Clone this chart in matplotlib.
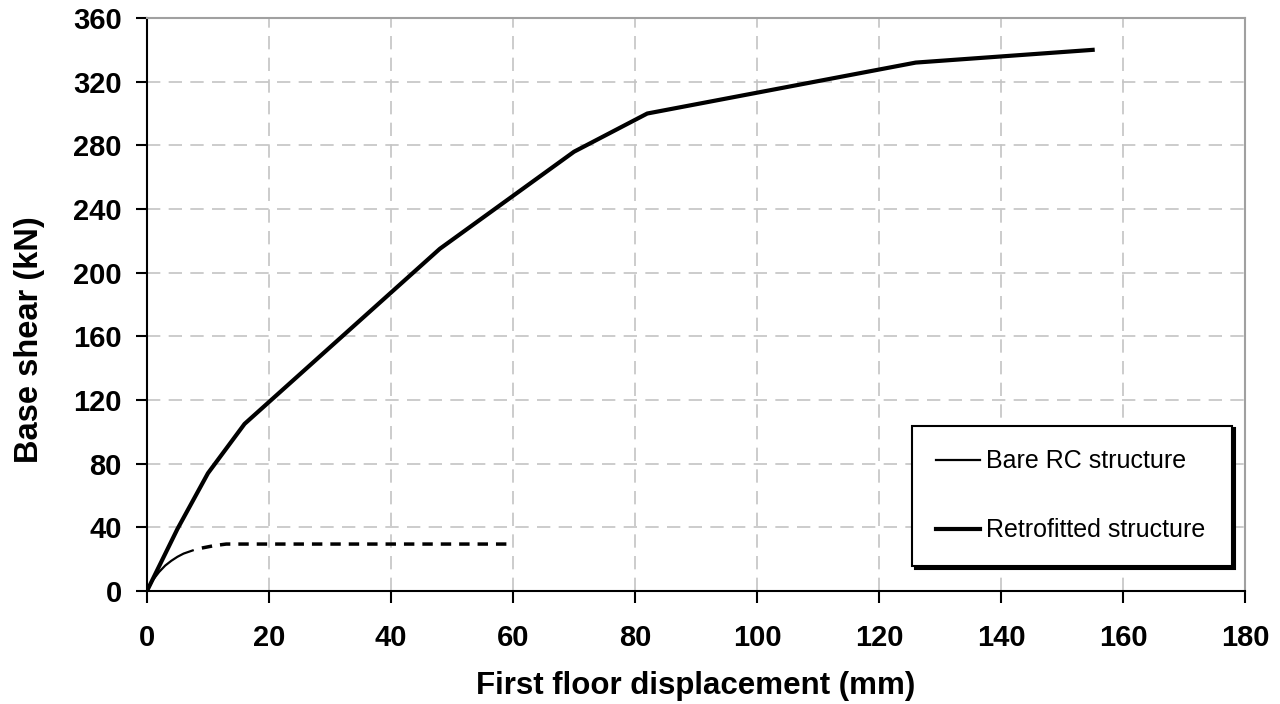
import matplotlib
matplotlib.use("Agg")
import matplotlib.pyplot as plt

plt.rcParams['font.family'] = ['Liberation Sans', 'DejaVu Sans']

retro_x = [0, 5, 10, 16, 48, 70, 82, 126, 155]
retro_y = [0, 39, 74, 105, 215, 276, 300, 332, 340]

bare_solid_x = [0, 1, 2, 3, 4, 5, 6, 7.5]
bare_solid_y = [0, 7, 12, 16, 19, 21.5, 23.5, 25.5]
bare_dash_x = [9, 11, 13, 20, 40, 59]
bare_dash_y = [27, 28.5, 29.5, 29.5, 29.5, 29.5]

xticks = list(range(0, 181, 20))
yticks = list(range(0, 361, 40))

fig = plt.figure(figsize=(12.8, 7.04), dpi=100)
ax = fig.add_axes([0.1148, 0.1605, 0.858, 0.8139])

ax.plot(bare_solid_x, bare_solid_y, color='black', lw=1.6, label='Bare RC structure')
ax.plot(bare_dash_x, bare_dash_y, color='black', lw=2.5, linestyle=(0, (3, 2.3)))
ax.plot(retro_x, retro_y, color='black', lw=3.0, label='Retrofitted structure')

ax.set_xlim(0, 180)
ax.set_ylim(0, 360)
ax.set_xticks(xticks)
ax.set_yticks(yticks)
ax.grid(True, color='#c4c4c4', linestyle=(0, (8, 5)), lw=1.2)
ax.set_axisbelow(True)

for s in ['top', 'right']:
    ax.spines[s].set_color('#a0a0a0')
    ax.spines[s].set_linewidth(1.5)
for s in ['left', 'bottom']:
    ax.spines[s].set_color('black')
    ax.spines[s].set_linewidth(1.5)

ax.tick_params(axis='y', direction='out', length=8, width=1.5, labelsize=21, pad=10)
ax.tick_params(axis='x', direction='out', length=8.5, width=1.5, labelsize=21, pad=15)
for lab in ax.get_xticklabels() + ax.get_yticklabels():
    lab.set_fontweight('bold')

ax.set_xlabel('First floor displacement (mm)', fontsize=22.5, fontweight='bold', labelpad=14)
ax.set_ylabel('Base shear (kN)', fontsize=23.5, fontweight='bold', labelpad=20)
ax.yaxis.label.set_y(0.438)

leg = ax.legend(loc='lower left', bbox_to_anchor=(0.697, 0.0436, 0.291, 0.2494), mode='expand',
                frameon=True, fancybox=False, shadow={'color': 'black', 'alpha': 1.0},
                edgecolor='black', fontsize=18, labelspacing=1.8, handlelength=1.75,
                handletextpad=0.25, borderpad=0.95, borderaxespad=0)
leg.get_frame().set_linewidth(1.5)

fig.savefig('out.png', dpi=100)
